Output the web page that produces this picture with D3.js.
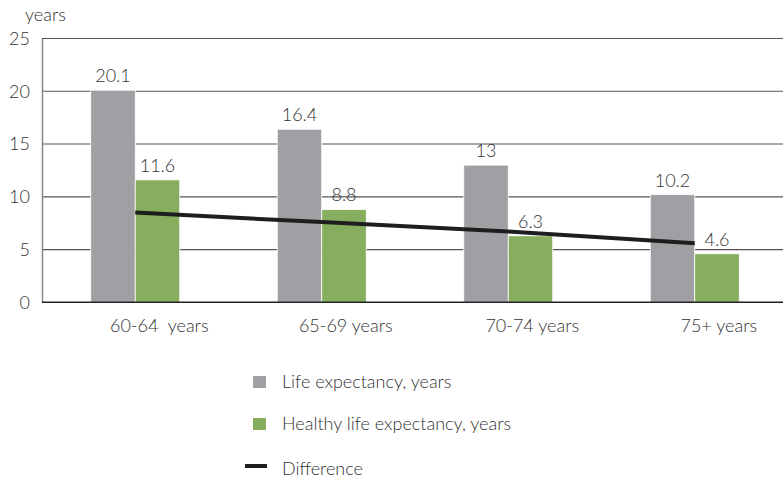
<!DOCTYPE html>
<html><head><meta charset="utf-8">
<script src="https://cdn.jsdelivr.net/npm/d3@7"></script>
<style>
body{margin:0;background:#fff;}
text{font-family:Lato,"Open Sans",sans-serif;font-weight:300;fill:#333;}
</style></head>
<body><svg id="c" width="783" height="481"></svg>
<script>
const categories = ["60-64  years","65-69 years","70-74 years","75+ years"];
const lifeExpectancy = [20.1,16.4,13,10.2];
const healthyLifeExpectancy = [11.6,8.8,6.3,4.6];
const difference = [8.5,7.6,6.7,5.6];
const yTicks = [0,5,10,15,20,25];
const seriesNames = ["Life expectancy, years","Healthy life expectancy, years","Difference"];
const colors = {life:"#a0a0a4", healthy:"#87ae5e", diff:"#1e1e1e"};

(function(){
const svg = d3.select("#c");
const mLeft = 42, mRight = 788, mTop = 38.5, mBottom = 302.3;
const fs = 18;
const x = d3.scaleBand().domain(categories).range([mLeft,mRight]);
const y = d3.scaleLinear().domain([0,25]).range([mBottom,mTop]);
const bw = 44.5;

// gridlines
svg.append("g").selectAll("line").data(yTicks.filter(d=>d>0)).join("line")
  .attr("x1",mLeft).attr("x2",783).attr("y1",d=>y(d)).attr("y2",d=>y(d))
  .attr("stroke","#555").attr("stroke-width",1.2);

// y axis
const ya = svg.append("g").attr("transform",`translate(${mLeft},0)`)
  .call(d3.axisLeft(y).tickValues(yTicks).tickSize(0).tickPadding(12));
ya.select(".domain").attr("stroke","#888").attr("stroke-width",1.5);
ya.selectAll("text").attr("font-size",fs).style("font-family","Lato,sans-serif").attr("fill","#333");

svg.append("text").attr("x",25).attr("y",21).attr("font-size",fs).text("years");

// bars
const cx = d => x(d) + x.bandwidth()/2;
svg.append("g").selectAll("rect").data(categories).join("rect")
  .attr("x",d=>cx(d)-bw).attr("width",bw)
  .attr("y",(d,i)=>y(lifeExpectancy[i])).attr("height",(d,i)=>mBottom-y(lifeExpectancy[i]))
  .attr("fill",colors.life).attr("stroke","#fff").attr("stroke-width",0.8);
svg.append("g").selectAll("rect").data(categories).join("rect")
  .attr("x",d=>cx(d)).attr("width",bw)
  .attr("y",(d,i)=>y(healthyLifeExpectancy[i])).attr("height",(d,i)=>mBottom-y(healthyLifeExpectancy[i]))
  .attr("fill",colors.healthy).attr("stroke","#fff").attr("stroke-width",0.8);

// value labels
svg.append("g").selectAll("text").data(categories).join("text")
  .attr("x",d=>cx(d)-bw/2).attr("y",(d,i)=>y(lifeExpectancy[i])-8)
  .attr("text-anchor","middle").attr("font-size",fs).text((d,i)=>lifeExpectancy[i]);
svg.append("g").selectAll("text").data(categories).join("text")
  .attr("x",d=>cx(d)+bw/2).attr("y",(d,i)=>y(healthyLifeExpectancy[i])-8)
  .attr("text-anchor","middle").attr("font-size",fs).text((d,i)=>healthyLifeExpectancy[i]);

// bottom axis
svg.append("line").attr("x1",mLeft).attr("x2",783).attr("y1",mBottom).attr("y2",mBottom)
  .attr("stroke","#222").attr("stroke-width",1.5);

// category labels
svg.append("g").selectAll("text").data(categories).join("text")
  .attr("x",d=>cx(d)+24).attr("y",332).attr("text-anchor","middle")
  .attr("font-size",fs).style("white-space","pre").text(d=>d);

// difference line
svg.append("path").datum(difference)
  .attr("d",d3.line().x((d,i)=>cx(categories[i])).y(d=>y(d)))
  .attr("fill","none").attr("stroke",colors.diff).attr("stroke-width",4);

// legend
const lg = svg.append("g");
lg.append("rect").attr("x",253).attr("y",376).attr("width",13).attr("height",12).attr("fill",colors.life);
lg.append("rect").attr("x",253).attr("y",418).attr("width",13).attr("height",12).attr("fill",colors.healthy);
lg.append("line").attr("x1",245).attr("x2",267).attr("y1",466).attr("y2",466).attr("stroke",colors.diff).attr("stroke-width",4);
[388,430,475].forEach((yy,i)=>lg.append("text").attr("x",282).attr("y",yy).attr("font-size",fs).text(seriesNames[i]));
})();
</script></body></html>
